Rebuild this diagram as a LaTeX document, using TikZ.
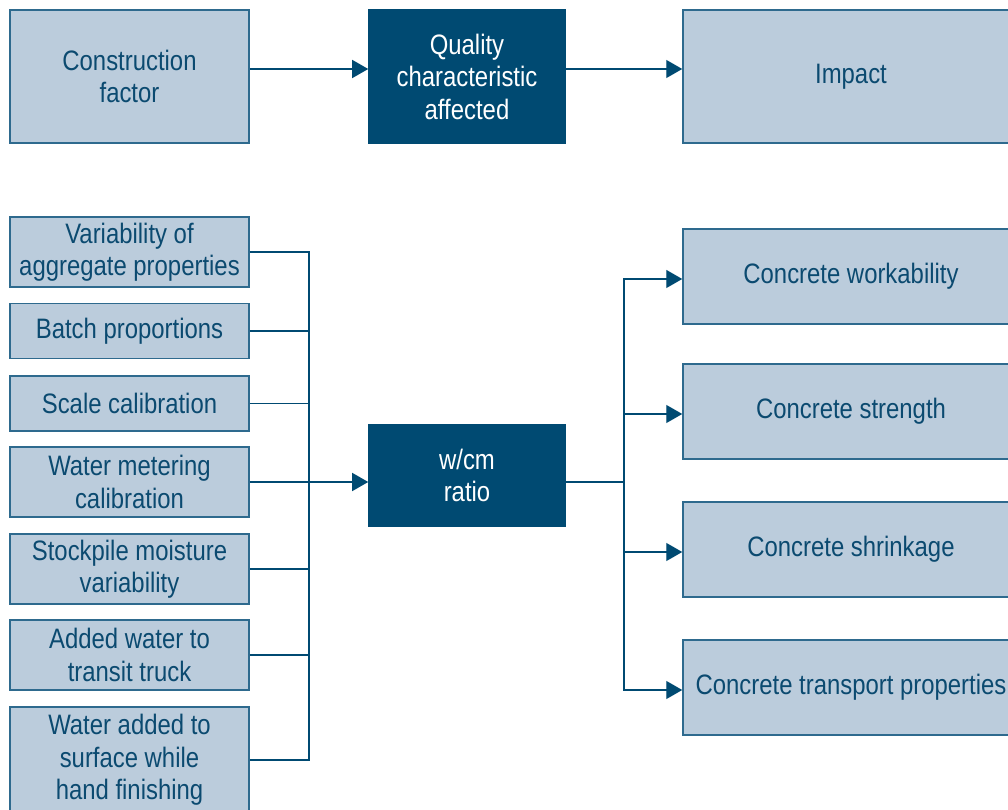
\documentclass[tikz,border=0pt]{standalone}
\usepackage{fontspec}
\setmainfont{Liberation Sans}[FakeStretch=0.85]
\usepackage{tikz}
\usetikzlibrary{arrows.meta}
\definecolor{wcmdark}{HTML}{004A72}
\definecolor{wcmlight}{HTML}{BBCCDC}
\definecolor{wcmedge}{HTML}{2E6A8E}
\definecolor{wcmtext}{HTML}{0B4A70}

\begin{document}
\begin{tikzpicture}[
    x=0.02cm, y=-0.02cm,
    box/.style={rectangle, draw=wcmedge, line width=0.9pt, fill=wcmlight, text=wcmtext, align=center, inner sep=0pt, font=\fontsize{16}{18.5}\selectfont},
    leftbox/.style={box, minimum width=4.78cm},
    rightbox/.style={box, minimum width=6.72cm, minimum height=1.9cm},
    darkbox/.style={box, draw=wcmdark, fill=wcmdark, text=white, minimum width=3.92cm},
    link/.style={wcmdark, line width=0.8pt},
    arr/.style={link, -{Triangle[length=0.32cm, width=0.36cm]}}
]
\useasboundingbox (0,0) rectangle (1008,810);
% header row
\node[leftbox, minimum height=2.66cm] (cf) at (129.5,76.5) {Construction\\factor};
\node[darkbox, minimum height=2.66cm] (qca) at (467,76.5) {Quality\\characteristic\\affected};
\node[rightbox, minimum height=2.66cm] (imp) at (851,76.5) {Impact};
\draw[arr] ([yshift=0.15cm]cf.east) -- ([yshift=0.15cm]qca.west);
\draw[arr] ([yshift=0.15cm]qca.east) -- ([yshift=0.15cm]imp.west);

% factors
\node[leftbox, minimum height=1.4cm] (f1) at (129.5,252) {Variability of\\aggregate properties};
\node[leftbox, minimum height=1.1cm] (f2) at (129.5,331) {Batch proportions};
\node[leftbox, minimum height=1.1cm] (f3) at (129.5,403.5) {Scale calibration};
\node[leftbox, minimum height=1.4cm] (f4) at (129.5,482) {Water metering\\calibration};
\node[leftbox, minimum height=1.4cm] (f5) at (129.5,569) {Stockpile moisture\\variability};
\node[leftbox, minimum height=1.4cm] (f6) at (129.5,655) {Added water to\\transit truck};
\node[leftbox, minimum height=2.12cm] (f7) at (129.5,760) {Water added to\\surface while\\hand finishing};

% characteristic
\node[darkbox, minimum height=2.02cm] (wcm) at (467,475.5) {w/cm\\ratio};

% impacts
\node[rightbox] (i1) at (851,276.5) {Concrete workability};
\node[rightbox] (i2) at (851,411.5) {Concrete strength};
\node[rightbox] (i3) at (851,549.5) {Concrete shrinkage};
\node[rightbox] (i4) at (851,687.5) {Concrete transport properties};

\coordinate (lbus) at (309,482);
\coordinate (rbus) at (624,482);
\foreach \f in {f1,f2,f3,f4,f5,f6,f7}
    \draw[link] (\f.east) -| (lbus);
\draw[arr] (lbus) -- (lbus -| wcm.west);
\draw[link] (wcm.east |- rbus) -- (rbus);
\foreach \i in {i1,i2,i3,i4}
    \draw[arr] (rbus) |- ([yshift=-0.05cm]\i.west);
\end{tikzpicture}
\end{document}
